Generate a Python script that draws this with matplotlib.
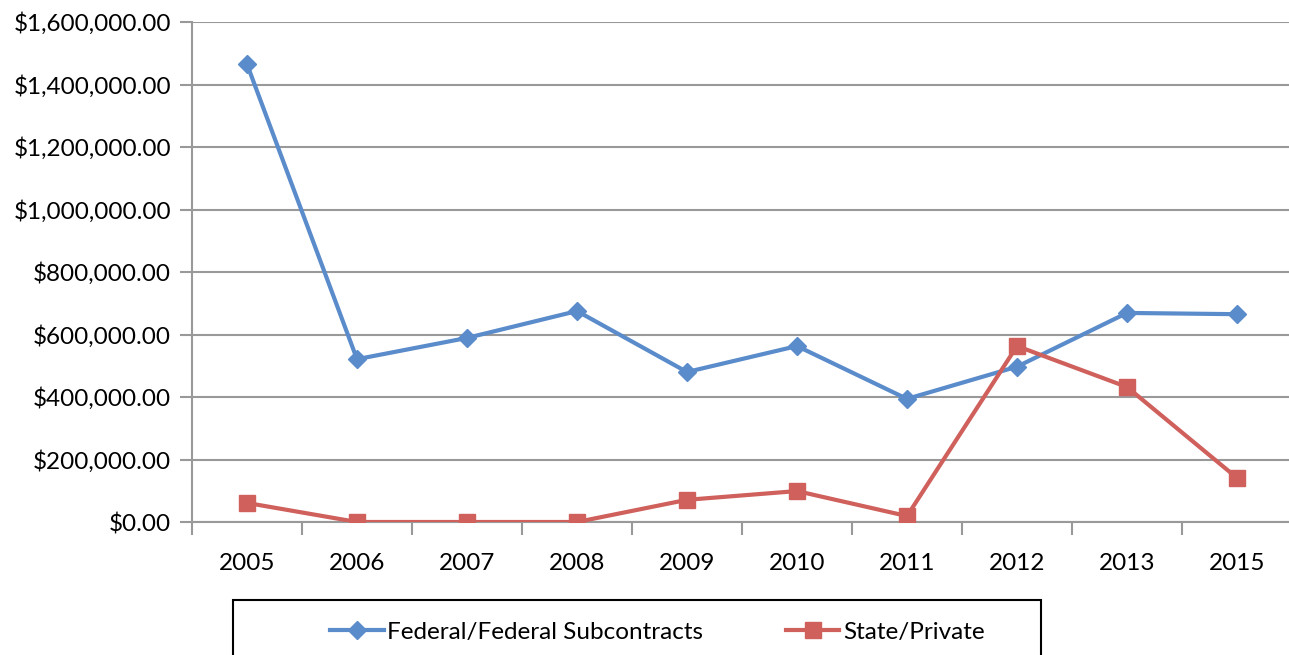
import matplotlib
matplotlib.use("Agg")
import matplotlib.pyplot as plt
from matplotlib.patches import Rectangle
from matplotlib.ticker import FuncFormatter, MultipleLocator

years = ['2005', '2006', '2007', '2008', '2009', '2010', '2011', '2012', '2013', '2015']
federal = [1465000, 521000, 589000, 675000, 480000, 563000, 394000, 497000, 669000, 665000]
state = [61000, 0, 0, 0, 71000, 99000, 19000, 563000, 432000, 141000]

plt.rcParams['font.family'] = ['Lato', 'DejaVu Sans']

W, H = 1289, 655
fig = plt.figure(figsize=(W / 100, H / 100), dpi=100)
ax = fig.add_axes([192 / W, 1 - 522 / H, 1100 / W, 500 / H])

x = range(len(years))
ax.plot(x, federal, color='#5A8BCA', lw=3, marker='D', ms=9,
        label='Federal/Federal Subcontracts', zorder=3)
ax.plot(x, state, color='#CF605C', lw=3, marker='s', ms=12,
        label='State/Private', zorder=3)

ax.set_xlim(-0.5, len(years) - 0.5)
ax.set_ylim(0, 1600000)
ax.yaxis.set_major_locator(MultipleLocator(200000))
ax.yaxis.set_major_formatter(FuncFormatter(lambda v, p: '${:,.2f}'.format(v)))
ax.grid(axis='y', color='#999999', lw=1.5)
ax.set_axisbelow(True)

# Excel style: ticks between categories, labels centred on them
ax.set_xticks([i + 0.5 for i in range(-1, len(years))], minor=False)
ax.set_xticklabels([])
ax.set_xticks(list(x), minor=True)
ax.set_xticklabels(years, minor=True)
ax.tick_params(axis='x', which='major', length=9, width=1.5, color='#999999', direction='out')
ax.tick_params(axis='x', which='minor', length=0, pad=22, labelsize=17.5)
ax.tick_params(axis='y', length=9, width=1.5, color='#999999', labelsize=17.5, pad=6)

for s in ['top', 'right']:
    ax.spines[s].set_visible(False)
for s in ['left', 'bottom']:
    ax.spines[s].set_color('#999999')
    ax.spines[s].set_linewidth(1.5)

fig.patches.append(Rectangle((233 / W, -10 / H), 808 / W, 65 / H,
                             transform=fig.transFigure, fill=False,
                             edgecolor='black', lw=1.5))
fig.legend(loc='center left', bbox_to_anchor=(318 / W, 1 - 632 / H), ncol=2,
           frameon=False, fontsize=17.5, columnspacing=3.4, handlelength=2.2,
           handletextpad=0.15, borderpad=0)

fig.savefig('out.png', dpi=100)
